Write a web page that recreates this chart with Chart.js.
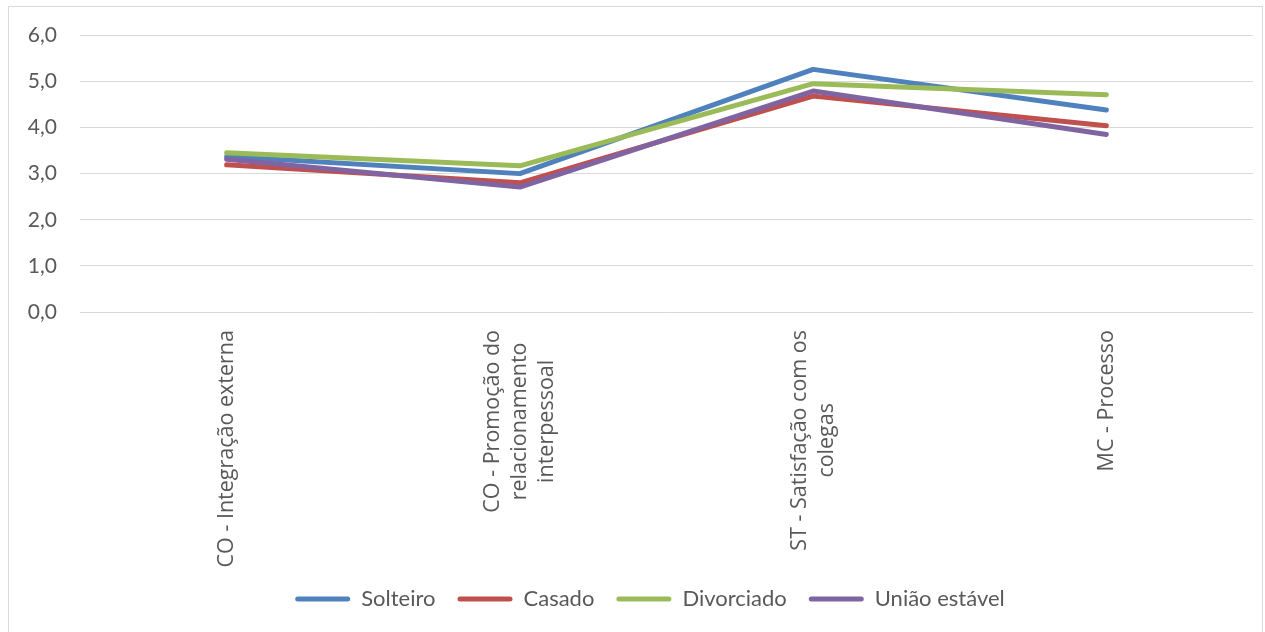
<!DOCTYPE html>
<html>
<head>
<meta charset="utf-8">
<script src="https://cdn.jsdelivr.net/npm/chart.js@4.4.0/dist/chart.umd.min.js"></script>
<style>
  body { margin: 0; background: #fff; }
  #box {
    position: absolute; left: 8px; top: 6px;
    width: 1253px; height: 640px;
    border: 1px solid #d9d9d9;
  }
</style>
</head>
<body>
<div id="box"><canvas id="chart" width="1253" height="625"></canvas></div>
<script>
// ======================
// Datos
// ======================
const categorias = [
  ["CO - Integração externa"],
  ["CO - Promoção do", "relacionamento", "interpessoal"],
  ["ST - Satisfação com os", "colegas"],
  ["MC - Processo"]
];
const solteiro   = [3.37, 3.00, 5.26, 4.38];
const casado     = [3.19, 2.80, 4.68, 4.04];
const divorciado = [3.45, 3.17, 4.95, 4.71];
const uniao      = [3.31, 2.71, 4.79, 3.85];

const TXT = "#595959";
const FONT = "Lato, 'Open Sans', sans-serif";

// etiquetas del eje X: rotadas y centradas entre si (como Excel)
const xLabelsPlugin = {
  id: "xLabels",
  afterLayout(chart) {
    // correr la leyenda un poco a la derecha
    chart.legend.left += 19;
    chart.legend.right += 19;
  },
  afterDraw(chart) {
    const ctx = chart.ctx;
    const xs = chart.scales.x;
    const top = chart.chartArea.bottom + 18;
    const lh = 27;
    ctx.save();
    ctx.font = "21.5px 'Open Sans', sans-serif";
    ctx.fillStyle = TXT;
    ctx.textAlign = "center";
    ctx.textBaseline = "middle";
    categorias.forEach((lines, i) => {
      const x = xs.getPixelForValue(i);
      const maxW = Math.max(...lines.map(l => ctx.measureText(l).width));
      ctx.save();
      ctx.translate(x, top);
      ctx.rotate(-Math.PI / 2);
      lines.forEach((l, j) => {
        ctx.fillText(l, -maxW / 2, (j - (lines.length - 1) / 2) * lh);
      });
      ctx.restore();
    });
    ctx.restore();
  }
};

function serie(label, data, color, order) {
  return {
    label, data, order,
    borderColor: color,
    backgroundColor: color,
    borderWidth: 5,
    borderCapStyle: "round",
    borderJoinStyle: "round",
    pointRadius: 0,
    tension: 0,
    fill: false
  };
}

new Chart(document.getElementById("chart"), {
  type: "line",
  data: {
    labels: categorias.map(c => c.join(" ")),
    datasets: [
      serie("Solteiro", solteiro, "#4f81bd", 4),
      serie("Casado", casado, "#c0504d", 3),
      serie("Divorciado", divorciado, "#9bbb59", 2),
      serie("União estável", uniao, "#8064a2", 1)
    ]
  },
  options: {
    responsive: false,
    animation: false,
    layout: { padding: { top: 10, right: 9, left: 0, bottom: 12 } },
    scales: {
      x: {
        offset: true,
        grid: { display: false },
        border: { display: false },
        ticks: { display: false },
        afterFit: s => { s.height = 254; }
      },
      y: {
        min: 0, max: 6,
        ticks: {
          stepSize: 1,
          padding: 23,
          color: TXT,
          font: { family: FONT, size: 21, lineHeight: 0.5 },
          callback: v => v.toFixed(1).replace(".", ",")
        },
        grid: { color: "#d9d9d9", lineWidth: 1, drawTicks: false },
        border: { display: false },
        afterFit: s => { s.width = 71; }
      }
    },
    plugins: {
      tooltip: { enabled: false },
      legend: {
        position: "bottom",
        labels: {
          color: TXT,
          font: { family: FONT, size: 22 },
          boxWidth: 55,
          boxHeight: 5,
          padding: 22,
          useBorderRadius: true,
          borderRadius: 2.5,
          generateLabels(chart) {
            const items = Chart.defaults.plugins.legend.labels.generateLabels(chart);
            items.forEach(it => { it.lineWidth = 0; });
            return items.sort((a, b) => a.datasetIndex - b.datasetIndex);
          }
        }
      }
    }
  },
  plugins: [xLabelsPlugin]
});
</script>
</body>
</html>
